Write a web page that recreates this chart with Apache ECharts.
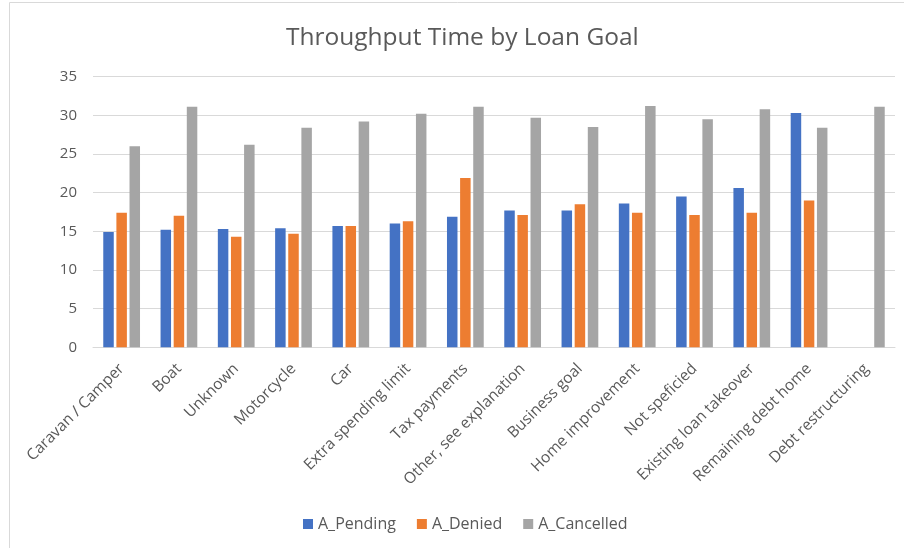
<!DOCTYPE html>
<html>
<head>
<meta charset="utf-8">
<script src="https://cdn.jsdelivr.net/npm/echarts@6/dist/echarts.min.js"></script>
<style>html,body{margin:0;padding:0;background:#fff}#c{width:904px;height:548px}</style>
</head>
<body>
<div id="c"></div>
<script>
const categories = ["Caravan / Camper","Boat","Unknown","Motorcycle","Car","Extra spending limit","Tax payments","Other, see explanation","Business goal","Home improvement","Not speficied","Existing loan takeover","Remaining debt home","Debt restructuring"];
const pending   = [14.9, 15.2, 15.3, 15.4, 15.7, 16.0, 16.9, 17.7, 17.7, 18.6, 19.5, 20.6, 30.3, null];
const denied    = [17.4, 17.0, 14.3, 14.7, 15.7, 16.3, 21.9, 17.1, 18.5, 17.4, 17.1, 17.4, 19.0, null];
const cancelled = [26.0, 31.1, 26.2, 28.4, 29.2, 30.2, 31.1, 29.7, 28.5, 31.2, 29.5, 30.8, 28.4, 31.1];
const seriesNames = ["A_Pending","A_Denied","A_Cancelled"];
const colors = ["#4472C4","#ED7D31","#A5A5A5"];
const yTicks = {min:0, max:35, interval:5};

const FONT = "Open Sans";
const chart = echarts.init(document.getElementById('c'), null, {renderer:'canvas'});
const mk = (name, data, color) => ({
  name, type:'bar', data, barWidth:10.5, barGap:'25%',
  itemStyle:{color}
});
chart.setOption({
  animation:false,
  textStyle:{fontFamily:FONT},
  graphic:[{type:'rect', shape:{x:9.5,y:2.5,width:1000,height:1000}, style:{fill:'none', stroke:'#D9D9D9', lineWidth:1}}],
  title:{text:'Throughput Time by Loan Goal', left:281, top:21,
    textStyle:{fontFamily:FONT, fontSize:24.5, fontWeight:'normal', color:'#595959'}},
  legend:{left:298, top:511, icon:'rect', itemWidth:10, itemHeight:10, itemGap:21,
    textStyle:{fontFamily:FONT, fontSize:16, color:'#595959'}, data:seriesNames},
  grid:{left:93, right:9, top:76.7, bottom:200.7, containLabel:false},
  xAxis:{type:'category', data:categories,
    axisLine:{lineStyle:{color:'#D9D9D9'}}, axisTick:{show:false},
    axisLabel:{rotate:45, interval:0, fontFamily:FONT, fontSize:15.5, color:'#595959', margin:19}},
  yAxis:{type:'value', min:yTicks.min, max:yTicks.max, interval:yTicks.interval,
    axisLine:{show:false}, axisTick:{show:false},
    splitLine:{lineStyle:{color:'#D9D9D9'}},
    axisLabel:{fontFamily:FONT, fontSize:15, color:'#595959', margin:16}},
  series:[mk(seriesNames[0], pending, colors[0]), mk(seriesNames[1], denied, colors[1]), mk(seriesNames[2], cancelled, colors[2])]
});
</script>
</body>
</html>
